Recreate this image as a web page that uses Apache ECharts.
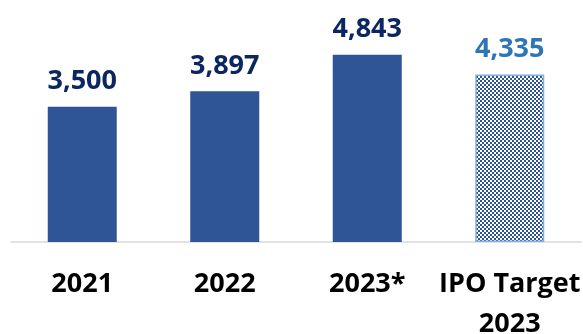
<!DOCTYPE html>
<html>
<head>
<meta charset="utf-8">
<script src="https://cdn.jsdelivr.net/npm/echarts@6/dist/echarts.min.js"></script>
<style>
html,body{margin:0;padding:0;background:#fff;}
#chart{width:583px;height:334px;}
</style>
</head>
<body>
<div id="chart"></div>
<script>
const categories = ['2021', '2022', '2023*', 'IPO Target\n2023'];
const values = [3500, 3897, 4843, 4335];
const yMax = 6000;

// checker pattern for the target bar
const pc = document.createElement('canvas');
pc.width = 4; pc.height = 4;
const pctx = pc.getContext('2d');
pctx.fillStyle = '#ffffff';
pctx.fillRect(0, 0, 4, 4);
pctx.fillStyle = '#2f5597';
pctx.fillRect(0, 0, 2, 2);
pctx.fillRect(2, 2, 2, 2);

const fontFamily = '"Open Sans", "Liberation Sans", sans-serif';

const data = values.map((v, i) => {
  const isTarget = i === values.length - 1;
  return {
    value: v,
    itemStyle: isTarget
      ? { color: { image: pc, repeat: 'repeat' }, borderColor: '#7fb0e0', borderWidth: 1.5 }
      : { color: '#2f5597' },
    label: { color: isTarget ? '#2e75b6' : '#0b2660' }
  };
});

const chart = echarts.init(document.getElementById('chart'), null, { renderer: 'canvas' });
chart.setOption({
  animation: false,
  grid: { left: 11, right: 2, top: 10, bottom: 92, containLabel: false, outerBoundsMode: 'none' },
  xAxis: {
    type: 'category',
    data: categories,
    axisLine: { show: true, lineStyle: { color: '#d9d9d9', width: 1.5 } },
    axisTick: { show: false },
    axisLabel: {
      interval: 0,
      margin: 22,
      color: '#000000',
      fontFamily: fontFamily,
      fontWeight: 'bold',
      fontSize: 27,
      lineHeight: 40
    }
  },
  yAxis: {
    type: 'value',
    min: 0,
    max: yMax,
    show: false,
    splitLine: { show: false }
  },
  series: [{
    type: 'bar',
    data: data,
    barWidth: 69,
    label: {
      show: true,
      position: 'top',
      distance: 12,
      fontFamily: fontFamily,
      fontWeight: 'bold',
      fontSize: 27,
      formatter: p => p.value.toLocaleString('en-US')
    }
  }]
});
</script>
</body>
</html>
